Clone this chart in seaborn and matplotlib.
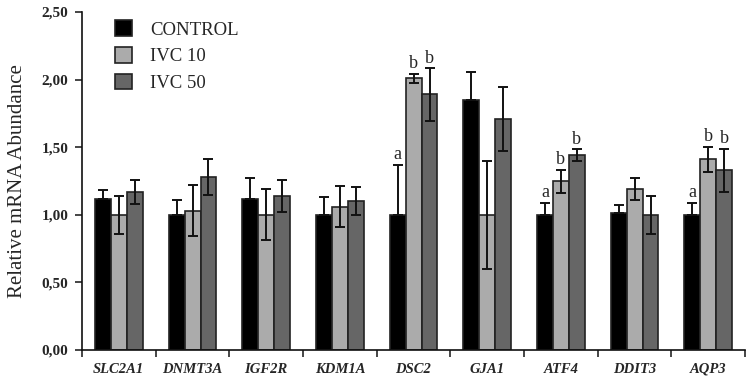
import matplotlib
matplotlib.use("Agg")
import matplotlib.pyplot as plt
import seaborn as sns
import pandas as pd
import numpy as np

genes = ["SLC2A1", "DNMT3A", "IGF2R", "KDM1A", "DSC2", "GJA1", "ATF4", "DDIT3", "AQP3"]
groups = ["CONTROL", "IVC 10", "IVC 50"]
control = [1.12, 1.00, 1.12, 1.00, 1.00, 1.85, 1.00, 1.01, 1.00]
ivc10 = [1.00, 1.03, 1.00, 1.06, 2.01, 1.00, 1.25, 1.19, 1.41]
ivc50 = [1.17, 1.28, 1.14, 1.10, 1.89, 1.71, 1.44, 1.00, 1.33]
control_err = [0.06, 0.11, 0.15, 0.13, 0.37, 0.21, 0.09, 0.06, 0.09]
ivc10_err = [0.14, 0.19, 0.19, 0.15, 0.035, 0.40, 0.085, 0.08, 0.095]
ivc50_err = [0.09, 0.13, 0.12, 0.105, 0.195, 0.235, 0.045, 0.14, 0.16]
control_lbl = ["", "", "", "", "a", "", "a", "", "a"]
ivc10_lbl = ["", "", "", "", "b", "", "b", "", "b"]
ivc50_lbl = ["", "", "", "", "b", "", "b", "", "b"]
yticks = [0.0, 0.5, 1.0, 1.5, 2.0, 2.5]
colors = ["#000000", "#ababab", "#666666"]

df = pd.DataFrame({
    "gene": genes * 3,
    "group": [g for g in groups for _ in genes],
    "value": control + ivc10 + ivc50,
})

sns.set_style("white")
plt.rcParams["font.family"] = ["Liberation Serif", "DejaVu Serif"]

fig = plt.figure(figsize=(7.47, 3.79), dpi=100)
ax = fig.add_axes([0.1098, 0.0765, 0.8876, 0.8918])

sns.barplot(data=df, x="gene", y="value", hue="group", order=genes, hue_order=groups,
            palette=colors, errorbar=None, width=0.65, edgecolor="#222222", linewidth=1.2,
            ax=ax, zorder=2)

errs = [control_err, ivc10_err, ivc50_err]
vals = [control, ivc10, ivc50]
lbls = [control_lbl, ivc10_lbl, ivc50_lbl]
for i, (cont, e, v, lb) in enumerate(zip(ax.containers, errs, vals, lbls)):
    xs = [p.get_x() + p.get_width() / 2 for p in cont]
    if i == 0:
        yerr = [np.zeros(len(e)), e]
    else:
        yerr = e
    ax.errorbar(xs, v, yerr=yerr, fmt="none", ecolor="#111111", elinewidth=1.4,
                capsize=3.5, capthick=1.4, zorder=3)
    for x, val, err, t in zip(xs, v, e, lb):
        if t:
            ax.text(x, val + err + 0.01, t, ha="center", va="bottom", fontsize=13)

ax.set_ylim(0, 2.5)
ax.set_xlim(-0.5, 8.5)
ax.set_yticks(yticks)
ax.set_yticklabels([f"{t:.2f}".replace(".", ",") for t in yticks], fontweight="bold", fontsize=11)
ax.set_xticks(range(len(genes)))
ax.set_xticklabels(genes, fontweight="bold", fontstyle="italic", fontsize=10.5)
ax.tick_params(axis="x", length=0, pad=9)
ax.set_xticks(np.arange(-0.5, 9.0, 1.0), minor=True)
ax.tick_params(axis="x", which="minor", length=5, width=1.2, direction="out", bottom=True)
ax.tick_params(axis="y", length=5, width=1.2, direction="out", left=True, pad=5)
ax.set_xlabel("")
ax.set_ylabel("Relative mRNA Abundance", fontsize=15, labelpad=10)
for s in ["top", "right"]:
    ax.spines[s].set_visible(False)
for s in ["left", "bottom"]:
    ax.spines[s].set_color("#111111")
    ax.spines[s].set_linewidth(1.2)

leg = ax.legend(loc="upper left", bbox_to_anchor=(0.024, 1.025), frameon=False, fontsize=13.5,
                handlelength=0.9, handleheight=0.9, labelspacing=0.45, handletextpad=1.0)

fig.savefig("out.png", dpi=100)
